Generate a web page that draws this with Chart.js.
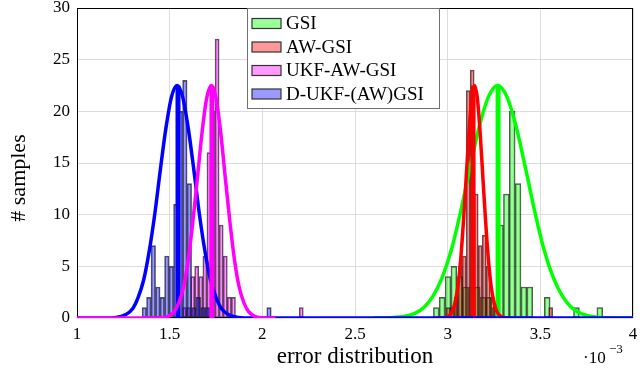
<!DOCTYPE html>
<html lang="en">

<head>
    <meta charset="UTF-8">
    <script src="https://cdn.jsdelivr.net/npm/chart.js"></script>
    <title>error distribution</title>
    <style>
        html, body { margin: 0; padding: 0; background: #fff; }
    </style>
</head>

<body>
    <canvas id="chart" width="640" height="373"></canvas>
    <script>
        const seriesNames = ['GSI', 'AW-GSI', 'UKF-AW-GSI', 'D-UKF-(AW)GSI']
        const lineColors = ['#00ff00', '#ff0000', '#ff00ff', '#0000ff']
        const barColors = ['rgba(0,255,0,0.4)', 'rgba(255,0,0,0.4)', 'rgba(255,0,255,0.4)', 'rgba(0,0,255,0.4)']

        // histogram bins: centre of each bin (x 1e-3) and number of samples
        const gsiBinX = [2.9388, 2.9703, 3.0018, 3.0333, 3.0648, 3.0963, 3.1278, 3.1593, 3.1908, 3.2223,
            3.2538, 3.2853, 3.3168, 3.3483, 3.3798, 3.4113, 3.4428, 3.5373, 3.6948, 3.8208]
        const gsiCount = [1, 2, 4, 5, 4, 3, 3, 3, 2, 2, 1, 9, 12, 20, 13, 3, 3, 2, 1, 1]

        const awBinX = [3.0028, 3.0244, 3.0460, 3.0676, 3.0892, 3.1108, 3.1324, 3.1540, 3.1756, 3.1972,
            3.2188, 3.2404, 3.2620, 3.5560]
        const awCount = [1, 1, 2, 5, 6, 22, 24, 12, 7, 8, 5, 2, 1, 1]

        const ukfBinX = [1.580, 1.602, 1.624, 1.646, 1.668, 1.690, 1.712, 1.734, 1.756, 1.778, 1.800, 1.822, 1.844, 2.210]
        const ukfCount = [1, 1, 4, 5, 4, 6, 16, 20, 27, 9, 6, 2, 2, 1]

        const dukfBinX = [1.3632, 1.3875, 1.4118, 1.4361, 1.4604, 1.4847, 1.5090, 1.5333, 1.5576, 1.5819,
            1.6062, 1.6305, 1.6548, 1.6791, 1.7034, 2.0360]
        const dukfCount = [1, 2, 7, 3, 2, 6, 5, 11, 20, 23, 13, 1, 2, 1, 1, 1]

        // fitted density curves
        const gsiCurveX = [2.60, 2.69, 2.77, 2.82, 2.87, 2.92, 2.97, 3.02, 3.07, 3.12, 3.17, 3.22, 3.27,
            3.32, 3.37, 3.42, 3.47, 3.52, 3.57, 3.62, 3.67, 3.72, 3.77, 3.85, 4.00]
        const gsiCurveY = [0, 0.03, 0.17, 0.43, 1.0, 2.1, 3.9, 6.6, 10.3, 14.5, 18.5, 21.4, 22.5,
            21.4, 18.5, 14.5, 10.3, 6.6, 3.9, 2.1, 1.0, 0.43, 0.17, 0.03, 0]

        const awCurveX = [2.95, 2.98, 3.005, 3.025, 3.04, 3.055, 3.07, 3.085, 3.10, 3.115, 3.13, 3.145,
            3.16, 3.175, 3.19, 3.205, 3.22, 3.235, 3.25, 3.265, 3.285, 3.31, 3.34]
        const awCurveY = [0, 0.03, 0.18, 0.64, 1.5, 3.0, 5.6, 9.3, 13.6, 18.0, 21.3, 22.5,
            21.3, 18.0, 13.6, 9.3, 5.6, 3.0, 1.5, 0.64, 0.18, 0.03, 0]

        const ukfCurveX = [1.00, 1.40, 1.455, 1.495, 1.525, 1.55, 1.575, 1.60, 1.625, 1.65, 1.675, 1.70, 1.725,
            1.75, 1.775, 1.80, 1.825, 1.85, 1.875, 1.90, 1.925, 1.955, 1.995, 2.07]
        const ukfCurveY = [0, 0, 0.03, 0.2, 0.64, 1.5, 3.0, 5.6, 9.3, 13.6, 18.0, 21.3, 22.5,
            21.3, 18.0, 13.6, 9.3, 5.6, 3.0, 1.5, 0.64, 0.2, 0.03, 0]

        const dukfCurveX = [1.00, 1.15, 1.21, 1.26, 1.30, 1.33, 1.36, 1.39, 1.42, 1.45, 1.48, 1.51, 1.54,
            1.57, 1.60, 1.63, 1.66, 1.69, 1.72, 1.75, 1.78, 1.82, 1.87, 1.95, 4.00]
        const dukfCurveY = [0, 0, 0.05, 0.3, 0.9, 2.0, 3.7, 6.5, 10.1, 14.4, 18.4, 21.4, 22.5,
            21.4, 18.4, 14.4, 10.1, 6.5, 3.7, 2.0, 0.9, 0.3, 0.05, 0, 0]

        // mean of each fit, drawn as a vertical bar up to the curve top
        const meanX = [3.272, 3.137, 1.728, 1.545]
        const meanTop = [22.5, 22.5, 22.5, 22.5]

        const xTickLabels = { min: 1, max: 4, step: 0.5 }
        const yTickLabels = { min: 0, max: 30, step: 5 }

        const serif = "'Liberation Serif', 'DejaVu Serif', serif"
        const bins = [[gsiBinX, gsiCount], [awBinX, awCount], [ukfBinX, ukfCount], [dukfBinX, dukfCount]]
        const curves = [[gsiCurveX, gsiCurveY], [awCurveX, awCurveY], [ukfCurveX, ukfCurveY], [dukfCurveX, dukfCurveY]]
        const curveOrder = [8, 6, 2, 4]

        const zip = (xs, ys) => xs.map((x, i) => ({ x, y: ys[i] }))

        const datasets = []
        bins.forEach(([xs, ys], i) => {
            datasets.push({
                type: 'bar',
                label: seriesNames[i],
                data: zip(xs, ys),
                binStep: xs[1] - xs[0],
                xAxisID: 'x' + i, // own axis so every histogram keeps its own bin width
                backgroundColor: barColors[i],
                borderColor: 'rgba(30,30,30,0.75)',
                borderWidth: 1,
                borderSkipped: false,
                grouped: false,
                barPercentage: 1,
                categoryPercentage: 1,
                order: 20 - i
            })
        })
        curves.forEach(([xs, ys], i) => {
            datasets.push({
                type: 'line',
                label: seriesNames[i] + ' fit',
                data: zip(xs, ys),
                xAxisID: 'x',
                borderColor: lineColors[i],
                borderWidth: 3.5,
                pointRadius: 0,
                cubicInterpolationMode: 'monotone',
                order: curveOrder[i]
            })
            datasets.push({
                type: 'line',
                label: seriesNames[i] + ' mean',
                data: [{ x: meanX[i], y: 0 }, { x: meanX[i], y: meanTop[i] }],
                xAxisID: 'x',
                borderColor: lineColors[i],
                borderWidth: 5,
                pointRadius: 0,
                order: curveOrder[i] - 1
            })
        })

        const hiddenAxis = () => ({
            type: 'linear', display: false, offset: false,
            min: xTickLabels.min, max: xTickLabels.max,
            ticks: { stepSize: xTickLabels.step }
        })

        // bars as wide as one bin, measured on the x scale
        const binWidth = {
            id: 'binWidth',
            afterLayout(chart) {
                const x = chart.scales.x
                chart.data.datasets.forEach(ds => {
                    if (ds.binStep) ds.barThickness = x.getPixelForValue(x.min + ds.binStep) - x.getPixelForValue(x.min)
                })
            }
        }

        const frame = {
            id: 'frame',
            beforeDatasetsDraw(chart) {
                const { ctx, chartArea: a } = chart
                ctx.save()
                ctx.strokeStyle = '#000'
                ctx.lineWidth = 1
                ctx.strokeRect(a.left + 0.5, a.top + 0.5, a.right - a.left - 1, a.bottom - a.top - 1)
                ctx.restore()
            }
        }

        const labels = {
            id: 'labels',
            afterDraw(chart) {
                const { ctx, chartArea: a } = chart
                const left = a.left + 170, top = a.top + 0.5
                const w = 192, rowH = 23.5
                ctx.save()
                ctx.fillStyle = '#fff'
                ctx.strokeStyle = '#707070'
                ctx.lineWidth = 1
                ctx.fillRect(left, top, w, 100)
                ctx.strokeRect(left + 0.5, top, w, 100)
                ctx.font = '19px ' + serif
                ctx.textBaseline = 'middle'
                seriesNames.forEach((name, i) => {
                    const cy = top + 15 + i * rowH
                    ctx.fillStyle = barColors[i]
                    ctx.fillRect(left + 5, cy - 5, 29, 10)
                    ctx.strokeStyle = '#333'
                    ctx.lineWidth = 1.2
                    ctx.strokeRect(left + 5, cy - 5, 29, 10)
                    ctx.fillStyle = '#000'
                    ctx.fillText(name, left + 39, cy + 1)
                })
                // y axis title
                ctx.save()
                ctx.translate(19, (a.top + a.bottom) / 2 + 15)
                ctx.rotate(-Math.PI / 2)
                ctx.textAlign = 'center'
                ctx.font = '22px ' + serif
                ctx.fillText('# samples', 0, 0)
                ctx.restore()
                // axis multiplier
                ctx.textBaseline = 'alphabetic'
                ctx.font = '17px ' + serif
                ctx.fillText('\u00b710', a.right - 50, chart.height - 10)
                ctx.font = '13px ' + serif
                ctx.fillText('\u22123', a.right - 24, chart.height - 20)
                ctx.restore()
            }
        }

        new Chart(document.getElementById('chart'), {
            type: 'bar',
            data: { datasets },
            options: {
                responsive: false,
                devicePixelRatio: 1,
                animation: false,
                layout: { padding: { top: 8, right: 7, left: 0, bottom: 0 } },
                datasets: { bar: { barPercentage: 1, categoryPercentage: 1 } },
                plugins: { legend: { display: false }, tooltip: { enabled: false } },
                scales: {
                    x: {
                        type: 'linear', offset: false,
                        min: xTickLabels.min, max: xTickLabels.max,
                        ticks: { stepSize: xTickLabels.step, color: '#000', padding: 8, font: { family: serif, size: 17, lineHeight: 1 }, callback: v => String(v) },
                        grid: { color: '#dcdcdc', drawTicks: false, offset: false },
                        border: { display: false },
                        title: { display: true, text: 'error distribution', color: '#000', font: { family: serif, size: 23 }, padding: { bottom: 2 } },
                        afterFit: s => { s.height = 55; s.paddingLeft = 0; s.paddingRight = 0 }
                    },
                    x0: hiddenAxis(), x1: hiddenAxis(), x2: hiddenAxis(), x3: hiddenAxis(),
                    y: {
                        min: yTickLabels.min, max: yTickLabels.max,
                        ticks: { stepSize: yTickLabels.step, color: '#000', padding: 7, font: { family: serif, size: 17, lineHeight: 1 } },
                        grid: { color: '#dcdcdc', drawTicks: false },
                        border: { display: false },
                        afterFit: s => { s.width = 77; s.paddingTop = 0; s.paddingBottom = 0 }
                    }
                }
            },
            plugins: [binWidth, frame, labels]
        })
    </script>
</body>

</html>
